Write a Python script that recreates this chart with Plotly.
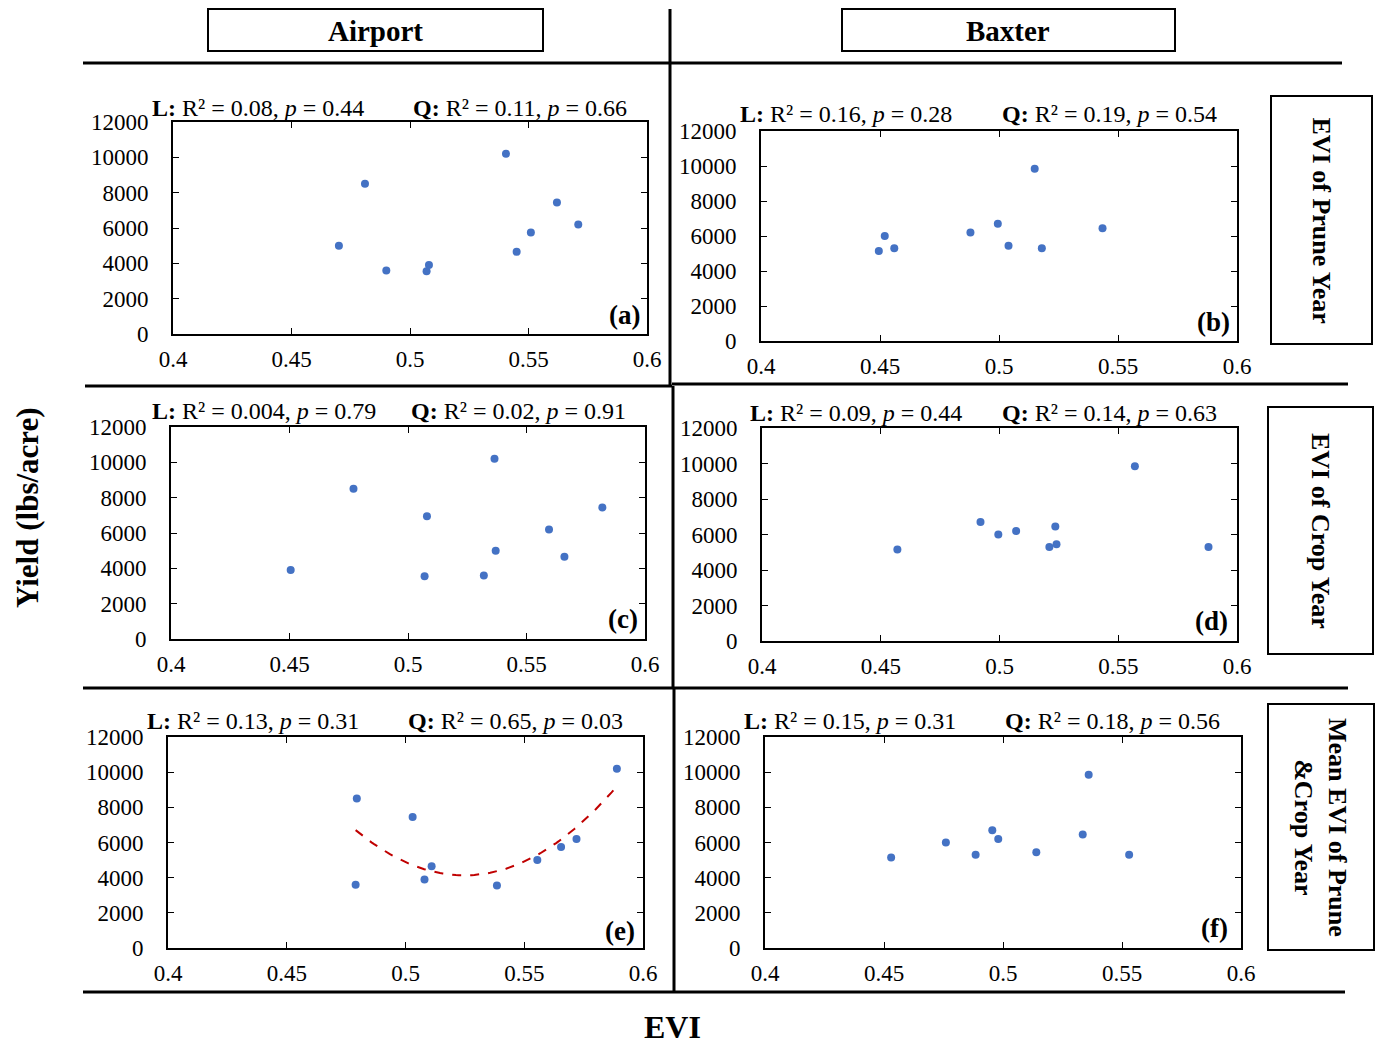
import numpy as np
import plotly.graph_objects as go

W, H = 1379, 1046

# ---- data ----
evi_a = [0.470, 0.481, 0.490, 0.508, 0.507, 0.5405, 0.545, 0.551, 0.562, 0.571]
yield_a = [5000, 8500, 3600, 3900, 3550, 10200, 4650, 5750, 7450, 6200]
evi_b = [0.4495, 0.452, 0.456, 0.488, 0.4995, 0.504, 0.515, 0.518, 0.5435]
yield_b = [5150, 6000, 5300, 6200, 6700, 5450, 9850, 5300, 6450]
evi_c = [0.4505, 0.477, 0.508, 0.507, 0.532, 0.5365, 0.537, 0.5595, 0.566, 0.582]
yield_c = [3900, 8500, 6950, 3550, 3600, 10200, 5000, 6200, 4650, 7450]
evi_d = [0.457, 0.492, 0.4995, 0.507, 0.521, 0.5235, 0.524, 0.557, 0.588]
yield_d = [5150, 6700, 6000, 6200, 5300, 6450, 5450, 9850, 5300]
evi_e = [0.4795, 0.479, 0.503, 0.508, 0.511, 0.5385, 0.5555, 0.5655, 0.572, 0.589]
yield_e = [8500, 3600, 7450, 3900, 4650, 3550, 5000, 5750, 6200, 10200]
evi_f = [0.453, 0.476, 0.4885, 0.4955, 0.498, 0.514, 0.5335, 0.536, 0.553]
yield_f = [5150, 6000, 5300, 6700, 6200, 5450, 6450, 9850, 5300]

panel_labels = ["(a)", "(b)", "(c)", "(d)", "(e)", "(f)"]
lin_stats = ["R² = 0.08, <i>p</i> = 0.44", "R² = 0.16, <i>p</i> = 0.28",
             "R² = 0.004, <i>p</i> = 0.79", "R² = 0.09, <i>p</i> = 0.44",
             "R² = 0.13, <i>p</i> = 0.31", "R² = 0.15, <i>p</i> = 0.31"]
quad_stats = ["R² = 0.11, <i>p</i> = 0.66", "R² = 0.19, <i>p</i> = 0.54",
              "R² = 0.02, <i>p</i> = 0.91", "R² = 0.14, <i>p</i> = 0.63",
              "R² = 0.65, <i>p</i> = 0.03", "R² = 0.18, <i>p</i> = 0.56"]
col_titles = ["Airport", "Baxter"]
row_titles = ["EVI of Prune Year", "EVI of Crop Year", "Mean EVI of Prune<br>&Crop Year"]

xs = [evi_a, evi_b, evi_c, evi_d, evi_e, evi_f]
ys = [yield_a, yield_b, yield_c, yield_d, yield_e, yield_f]

# ---- layout geometry (pixels) ----
boxes = [(173, 647, 122, 334), (761, 1237, 131, 341),
         (171, 645, 427, 639), (762, 1237, 428, 641),
         (168, 643, 737, 948), (765, 1241, 737, 948)]
stat_pos = [(150, 411, 108), (738, 1000, 114), (150, 409, 411),
            (748, 1000, 413), (145, 406, 721), (742, 1003, 721)]
lab_pos = [(642, 315), (1232, 322), (640, 619), (1230, 621), (637, 931), (1230, 928)]

def px(x):
    return x / W

def py(y):
    return 1 - y / H

FONT = "Liberation Serif, Times New Roman, serif"
fig = go.Figure()
annotations = []
shapes = []

for i in range(6):
    xa = "x" if i == 0 else f"x{i+1}"
    ya = "y" if i == 0 else f"y{i+1}"
    fig.add_trace(go.Scatter(x=xs[i], y=ys[i], mode="markers", xaxis=xa, yaxis=ya,
                             marker=dict(color="#4472C4", size=8), showlegend=False))
    l, r, t, b = boxes[i]
    axkw = dict(showline=True, linecolor="black", linewidth=1.8, mirror="ticks",
                ticks="inside", ticklen=6, tickcolor="black", tickwidth=1.3,
                showgrid=False, zeroline=False, automargin=False,
                tickfont=dict(family=FONT, size=23, color="black"))
    fig.layout[f"xaxis{'' if i == 0 else i+1}"] = dict(
        domain=[px(l), px(r)], range=[0.4, 0.6], dtick=0.05, tick0=0.4,
        anchor=ya, ticklabelstandoff=3, **axkw)
    fig.layout[f"yaxis{'' if i == 0 else i+1}"] = dict(
        domain=[py(b), py(t)], range=[0, 12000], dtick=2000, tickformat="d",
        anchor=xa, ticklabelstandoff=18, **axkw)
    lx, qx, sy = stat_pos[i]
    annotations.append(dict(x=px(lx), y=py(sy), xref="paper", yref="paper",
                            text="<b>L:</b> " + lin_stats[i], showarrow=False,
                            xanchor="left", yanchor="middle",
                            font=dict(family=FONT, size=24, color="black")))
    annotations.append(dict(x=px(qx), y=py(sy), xref="paper", yref="paper",
                            text="<b>Q:</b> " + quad_stats[i], showarrow=False,
                            xanchor="left", yanchor="middle",
                            font=dict(family=FONT, size=24, color="black")))
    lx2, ly2 = lab_pos[i]
    annotations.append(dict(x=px(lx2), y=py(ly2), xref="paper", yref="paper",
                            text="<b>" + panel_labels[i] + "</b>", showarrow=False,
                            xanchor="right", yanchor="middle",
                            font=dict(family=FONT, size=27, color="black")))

# quadratic fit on panel (e)
coef = np.polyfit(evi_e, yield_e, 2)
xf = np.linspace(min(evi_e), max(evi_e), 100)
fig.add_trace(go.Scatter(x=xf, y=np.polyval(coef, xf), mode="lines", xaxis="x5", yaxis="y5",
                         line=dict(color="#C00000", width=2, dash="dash"), showlegend=False))

# column header boxes
for (x0, x1), name in zip([(208, 543), (842, 1175)], col_titles):
    shapes.append(dict(type="rect", xref="paper", yref="paper", x0=px(x0), x1=px(x1),
                       y0=py(51), y1=py(9), line=dict(color="black", width=2)))
    annotations.append(dict(x=px((x0 + x1) / 2), y=py(31), xref="paper", yref="paper",
                            text="<b>" + name + "</b>", showarrow=False,
                            xanchor="center", yanchor="middle",
                            font=dict(family=FONT, size=29, color="black")))

# row label boxes
row_boxes = [(1271, 1372, 96, 344), (1268, 1373, 407, 654), (1268, 1374, 704, 950)]
for (x0, x1, y0, y1), name in zip(row_boxes, row_titles):
    shapes.append(dict(type="rect", xref="paper", yref="paper", x0=px(x0), x1=px(x1),
                       y0=py(y1), y1=py(y0), line=dict(color="black", width=2)))
    annotations.append(dict(x=px((x0 + x1) / 2), y=py((y0 + y1) / 2), xref="paper", yref="paper",
                            text="<b>" + name + "</b>", showarrow=False, textangle=90,
                            xanchor="center", yanchor="middle",
                            font=dict(family=FONT, size=26, color="black")))

# separator lines
lines = [(83, 63, 1342, 63), (85, 386, 672, 386), (672, 384, 1348, 384),
         (83, 688, 1348, 688), (83, 992, 1345, 992),
         (670, 9, 670, 386), (673, 386, 673, 688), (674, 688, 674, 993)]
for x0, y0, x1, y1 in lines:
    shapes.append(dict(type="line", xref="paper", yref="paper", x0=px(x0), y0=py(y0),
                       x1=px(x1), y1=py(y1), line=dict(color="black", width=3)))

# axis titles
annotations.append(dict(x=px(27), y=py(508), xref="paper", yref="paper",
                        text="<b>Yield (lbs/acre)</b>", showarrow=False, textangle=-90,
                        xanchor="center", yanchor="middle",
                        font=dict(family=FONT, size=31, color="black")))
annotations.append(dict(x=px(672), y=py(1027), xref="paper", yref="paper",
                        text="<b>EVI</b>", showarrow=False,
                        xanchor="center", yanchor="middle",
                        font=dict(family=FONT, size=32, color="black")))

fig.update_layout(width=W, height=H,
                  margin=dict(l=0, r=0, t=0, b=0, pad=0, autoexpand=False),
                  paper_bgcolor="white", plot_bgcolor="white",
                  annotations=annotations, shapes=shapes,
                  font=dict(family=FONT, color="black"))
fig.write_html("out.html", config={"displayModeBar": False},
               post_script="document.body.style.margin='0';document.body.style.overflow='hidden';")
